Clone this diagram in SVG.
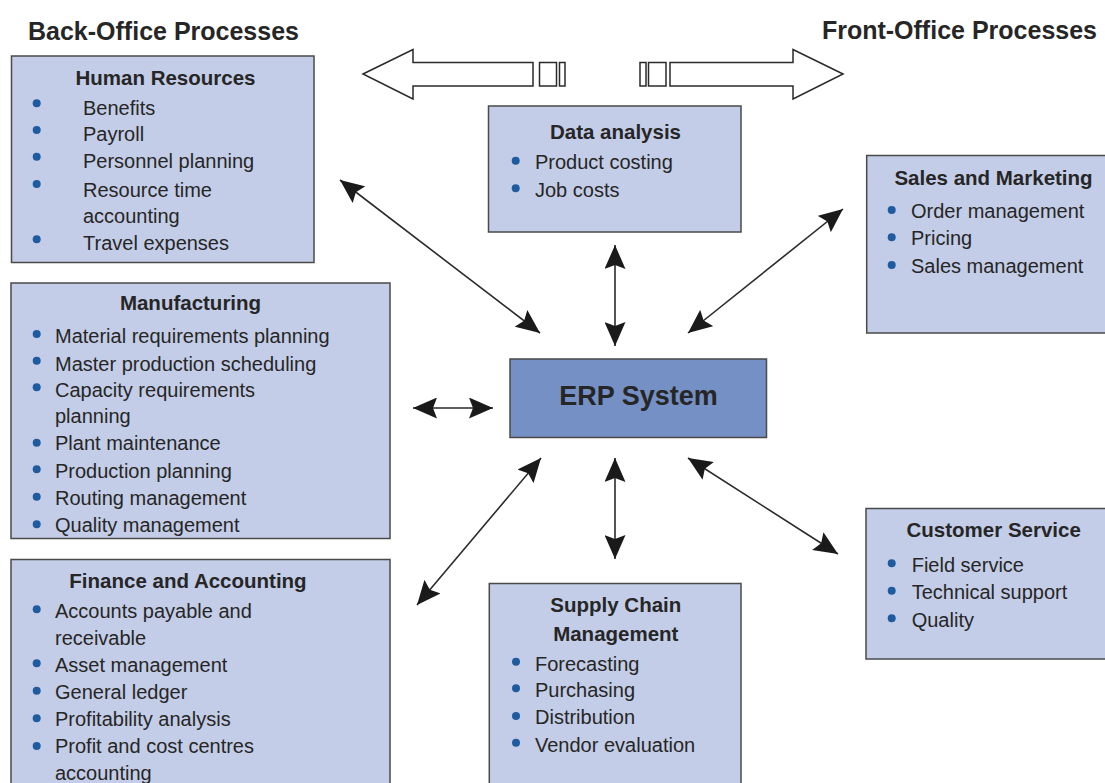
<svg xmlns="http://www.w3.org/2000/svg" width="1105" height="783" viewBox="0 0 1105 783">
<style>
.box{fill:#c4cde7;stroke:#4a4a4a;stroke-width:1.5}
.erp{fill:#7590c5;stroke:#4a4a4a;stroke-width:1.5}
text{font-family:"Liberation Sans",Arial,sans-serif;fill:#262626}
.hdr{font-size:25px;font-weight:bold}
.ttl{font-size:20.5px;font-weight:bold;text-anchor:middle}
.itm{font-size:20px}
.big{font-size:27px;font-weight:bold;text-anchor:middle}
.bul{fill:#1f5b9f}
.con{stroke:#2a2a2a;stroke-width:1.6;fill:none;marker-start:url(#ah);marker-end:url(#ah)}
.hollow{fill:#fff;stroke:#2a2a2a;stroke-width:1.5}
</style>
<defs>
<marker id="ah" viewBox="0 0 24 21" refX="24" refY="10.5" markerWidth="24" markerHeight="21" markerUnits="userSpaceOnUse" orient="auto-start-reverse">
<path d="M0,0 L24,10.5 L0,21 L4,10.5 Z" fill="#1a1a1a"/>
</marker>
</defs>

<g id="headers">
<text class="hdr" x="28" y="40">Back-Office Processes</text>
<text class="hdr" x="1097" y="39" text-anchor="end">Front-Office Processes</text>
</g>

<g id="scope-arrows">
<polygon class="hollow" points="363,74 413,49.5 413,62.5 533,62.5 533,86 413,86 413,99"/>
<rect class="hollow" x="539.5" y="62.5" width="17" height="23.5"/>
<rect class="hollow" x="559.5" y="62.5" width="5.5" height="23.5"/>
<rect class="hollow" x="640" y="62.5" width="6" height="23.5"/>
<rect class="hollow" x="648.5" y="62.5" width="17.5" height="23.5"/>
<polygon class="hollow" points="843,74 793,49.5 793,62.5 670,62.5 670,86 793,86 793,99"/>
</g>

<g id="connectors">
<line class="con" x1="340" y1="180" x2="540" y2="333"/>
<line class="con" x1="615" y1="245" x2="615" y2="346"/>
<line class="con" x1="843" y1="209" x2="688" y2="333"/>
<line class="con" x1="413" y1="408" x2="493" y2="408"/>
<line class="con" x1="417" y1="605" x2="541" y2="458"/>
<line class="con" x1="615" y1="458" x2="615" y2="559"/>
<line class="con" x1="688" y1="458" x2="838" y2="554"/>
</g>

<g id="human-resources">
<rect class="box" x="11.5" y="56" width="302.5" height="206.5"/>
<text class="ttl" x="165.5" y="85">Human Resources</text>
<circle class="bul" cx="36.7" cy="103.3" r="4"/>
<circle class="bul" cx="36.7" cy="130" r="4"/>
<circle class="bul" cx="36.7" cy="156.7" r="4"/>
<circle class="bul" cx="36.7" cy="184" r="4"/>
<circle class="bul" cx="36.7" cy="239.3" r="4"/>
<text class="itm" x="83" y="115">Benefits</text>
<text class="itm" x="83" y="141">Payroll</text>
<text class="itm" x="83" y="168">Personnel planning</text>
<text class="itm" x="83" y="196.5">Resource time</text>
<text class="itm" x="83" y="223">accounting</text>
<text class="itm" x="83" y="250">Travel expenses</text>
</g>

<g id="manufacturing">
<rect class="box" x="11" y="283" width="379" height="255.5"/>
<text class="ttl" x="190.5" y="309.5">Manufacturing</text>
<circle class="bul" cx="36.7" cy="334" r="4"/>
<circle class="bul" cx="36.7" cy="360.7" r="4"/>
<circle class="bul" cx="36.7" cy="387.3" r="4"/>
<circle class="bul" cx="36.7" cy="442.7" r="4"/>
<circle class="bul" cx="36.7" cy="469.3" r="4"/>
<circle class="bul" cx="36.7" cy="496.7" r="4"/>
<circle class="bul" cx="36.7" cy="524.3" r="4"/>
<text class="itm" x="55" y="343.3">Material requirements planning</text>
<text class="itm" x="55" y="370.7">Master production scheduling</text>
<text class="itm" x="55" y="397.3">Capacity requirements</text>
<text class="itm" x="55" y="422.7">planning</text>
<text class="itm" x="55" y="450">Plant maintenance</text>
<text class="itm" x="55" y="477.7">Production planning</text>
<text class="itm" x="55" y="505">Routing management</text>
<text class="itm" x="55" y="531.7">Quality management</text>
</g>

<g id="finance-accounting">
<rect class="box" x="11" y="559.5" width="379" height="230"/>
<text class="ttl" x="188" y="587.5">Finance and Accounting</text>
<circle class="bul" cx="36.7" cy="609.3" r="4"/>
<circle class="bul" cx="36.7" cy="663.3" r="4"/>
<circle class="bul" cx="36.7" cy="690.7" r="4"/>
<circle class="bul" cx="36.7" cy="718.3" r="4"/>
<circle class="bul" cx="36.7" cy="746" r="4"/>
<text class="itm" x="55" y="618.3">Accounts payable and</text>
<text class="itm" x="55" y="645">receivable</text>
<text class="itm" x="55" y="671.7">Asset management</text>
<text class="itm" x="55" y="699.3">General ledger</text>
<text class="itm" x="55" y="726">Profitability analysis</text>
<text class="itm" x="55" y="753.3">Profit and cost centres</text>
<text class="itm" x="55" y="780">accounting</text>
</g>

<g id="data-analysis">
<rect class="box" x="488.5" y="106" width="252.5" height="126"/>
<text class="ttl" x="615.5" y="139">Data analysis</text>
<circle class="bul" cx="515.7" cy="160.7" r="4"/>
<circle class="bul" cx="515.7" cy="188.3" r="4"/>
<text class="itm" x="535" y="169.3">Product costing</text>
<text class="itm" x="535" y="196.7">Job costs</text>
</g>

<g id="sales-marketing">
<rect class="box" x="866.7" y="155.5" width="250" height="177.5"/>
<text class="ttl" x="993.5" y="185">Sales and Marketing</text>
<circle class="bul" cx="891.7" cy="210" r="4"/>
<circle class="bul" cx="891.7" cy="237.3" r="4"/>
<circle class="bul" cx="891.7" cy="265" r="4"/>
<text class="itm" x="911" y="218.3">Order management</text>
<text class="itm" x="911" y="245">Pricing</text>
<text class="itm" x="911" y="273.3">Sales management</text>
</g>

<g id="erp-system">
<rect class="erp" x="510" y="359" width="256.5" height="78.5"/>
<text class="big" x="638.5" y="405">ERP System</text>
</g>

<g id="customer-service">
<rect class="box" x="866" y="508.5" width="250" height="150.5"/>
<text class="ttl" x="993.7" y="536.7">Customer Service</text>
<circle class="bul" cx="891.7" cy="563.3" r="4"/>
<circle class="bul" cx="891.7" cy="590.7" r="4"/>
<circle class="bul" cx="891.7" cy="618.3" r="4"/>
<text class="itm" x="911.7" y="571.7">Field service</text>
<text class="itm" x="911.7" y="599">Technical support</text>
<text class="itm" x="911.7" y="626.7">Quality</text>
</g>

<g id="supply-chain">
<rect class="box" x="489.3" y="583.5" width="251.7" height="210"/>
<text class="ttl" x="615.8" y="612.3">Supply Chain</text>
<text class="ttl" x="615.8" y="641">Management</text>
<circle class="bul" cx="516" cy="661.7" r="4"/>
<circle class="bul" cx="516" cy="688.3" r="4"/>
<circle class="bul" cx="516" cy="716" r="4"/>
<circle class="bul" cx="516" cy="742.7" r="4"/>
<text class="itm" x="535" y="670.7">Forecasting</text>
<text class="itm" x="535" y="697.3">Purchasing</text>
<text class="itm" x="535" y="724.3">Distribution</text>
<text class="itm" x="535" y="751.7">Vendor evaluation</text>
</g>
</svg>
